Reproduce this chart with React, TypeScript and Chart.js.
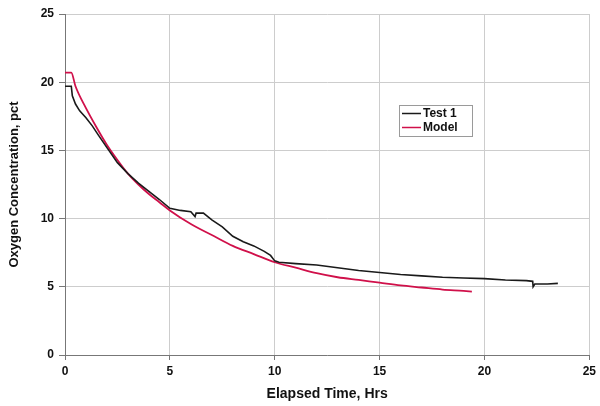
import React, { useEffect, useRef } from "react";
import { Chart, registerables } from "chart.js";

Chart.register(...registerables);

const testX = [0, 0.3, 0.35, 0.5, 0.7, 1, 1.3, 1.6, 2, 2.5, 3, 3.5, 4, 4.5, 5, 5.5, 6.0, 6.2, 6.25, 6.6, 7, 7.5, 8, 8.5, 9, 9.5, 9.8, 10, 10.2, 11, 12, 13, 14, 15, 16, 17, 18, 19, 20, 21, 22, 22.3, 22.32, 22.4, 23, 23.5];
const testY = [19.7, 19.7, 19.0, 18.4, 17.9, 17.4, 16.8, 16.1, 15.2, 14.1, 13.3, 12.6, 12.0, 11.4, 10.75, 10.6, 10.5, 10.15, 10.4, 10.4, 9.9, 9.4, 8.7, 8.3, 8.0, 7.6, 7.3, 6.9, 6.8, 6.7, 6.6, 6.4, 6.2, 6.05, 5.9, 5.8, 5.7, 5.65, 5.6, 5.5, 5.45, 5.4, 5.0, 5.2, 5.2, 5.25];

const modelX = [0, 0.3, 0.5, 1, 1.5, 2, 2.5, 3, 3.5, 4, 4.5, 5, 6, 7, 8, 9, 10, 11, 12, 13, 14, 15, 16, 17, 18, 19, 19.4];
const modelY = [20.7, 20.7, 19.7, 18.1, 16.7, 15.4, 14.3, 13.3, 12.5, 11.8, 11.2, 10.6, 9.6, 8.8, 8.0, 7.4, 6.8, 6.4, 6.0, 5.7, 5.5, 5.3, 5.1, 4.95, 4.8, 4.7, 4.65];

const seriesLabels = ["Test 1", "Model"];
const seriesColors = ["#1a1a1a", "#d0104a"];

const xTitle = "Elapsed Time, Hrs";
const yTitle = "Oxygen Concentration, pct";

const FONT = "'Liberation Sans', Arial, sans-serif";

const legendPlugin = {
  id: "boxLegend",
  afterDraw(chart: any) {
    const ctx = chart.ctx;
    const x0 = 399, y0 = 105, w = 73, h = 31;
    ctx.save();
    ctx.fillStyle = "#ffffff";
    ctx.fillRect(x0, y0, w, h);
    ctx.strokeStyle = "#9a9a9a";
    ctx.lineWidth = 1;
    ctx.strokeRect(x0 + 0.5, y0 + 0.5, w, h);
    ctx.font = "bold 12px " + FONT;
    ctx.textBaseline = "middle";
    chart.data.datasets.forEach((ds: any, i: number) => {
      const cy = y0 + 8.5 + i * 14;
      ctx.strokeStyle = ds.borderColor;
      ctx.lineWidth = 1.5;
      ctx.beginPath();
      ctx.moveTo(x0 + 3, cy);
      ctx.lineTo(x0 + 22, cy);
      ctx.stroke();
      ctx.fillStyle = "#111";
      ctx.fillText(ds.label, x0 + 24, cy + 0.5);
    });
    ctx.restore();
  },
};

export default function App() {
  const ref = useRef<HTMLCanvasElement>(null);
  useEffect(() => {
    if (!ref.current) return;
    const chart = new Chart(ref.current, {
      type: "line",
      data: {
        datasets: [
          {
            label: seriesLabels[0],
            data: testX.map((x, i) => ({ x, y: testY[i] })),
            borderColor: seriesColors[0],
            borderWidth: 1.6,
            pointRadius: 0,
            tension: 0,
            fill: false,
          },
          {
            label: seriesLabels[1],
            data: modelX.map((x, i) => ({ x, y: modelY[i] })),
            borderColor: seriesColors[1],
            borderWidth: 1.8,
            pointRadius: 0,
            cubicInterpolationMode: "monotone",
            fill: false,
          },
        ],
      },
      options: {
        animation: false,
        responsive: false,
        layout: { padding: { left: 0, right: 9, top: 14, bottom: 0 } },
        plugins: { legend: { display: false }, tooltip: { enabled: false } },
        scales: {
          x: {
            type: "linear",
            min: 0,
            max: 25,
            afterFit: (s: any) => { s.height = 51; },
            ticks: { stepSize: 5, color: "#111", padding: 4, font: { family: FONT, size: 12, weight: "bold" } },
            grid: { color: "#cdcdcd", tickColor: "#777", tickLength: 5 },
            border: { color: "#777", width: 1 },
            title: { display: true, text: xTitle, color: "#111", font: { family: FONT, size: 14, weight: "bold" }, padding: { top: 0, bottom: 3 } },
          },
          y: {
            min: 0,
            max: 25,
            afterFit: (s: any) => { s.width = 65; },
            ticks: { stepSize: 5, color: "#111", padding: 5, font: { family: FONT, size: 12, weight: "bold" } },
            grid: { color: "#cdcdcd", tickColor: "#777", tickLength: 6 },
            border: { color: "#777", width: 1 },
            title: { display: true, text: yTitle, color: "#111", font: { family: FONT, size: 13, weight: "bold" }, padding: { top: 7, bottom: 0 } },
          },
        },
      },
      plugins: [legendPlugin],
    } as any);
    return () => chart.destroy();
  }, []);
  return (
    <div style={{ position: "fixed", left: 0, top: 0, width: 600, height: 406, background: "#fff" }}>
      <canvas ref={ref} width={600} height={406} />
    </div>
  );
}
